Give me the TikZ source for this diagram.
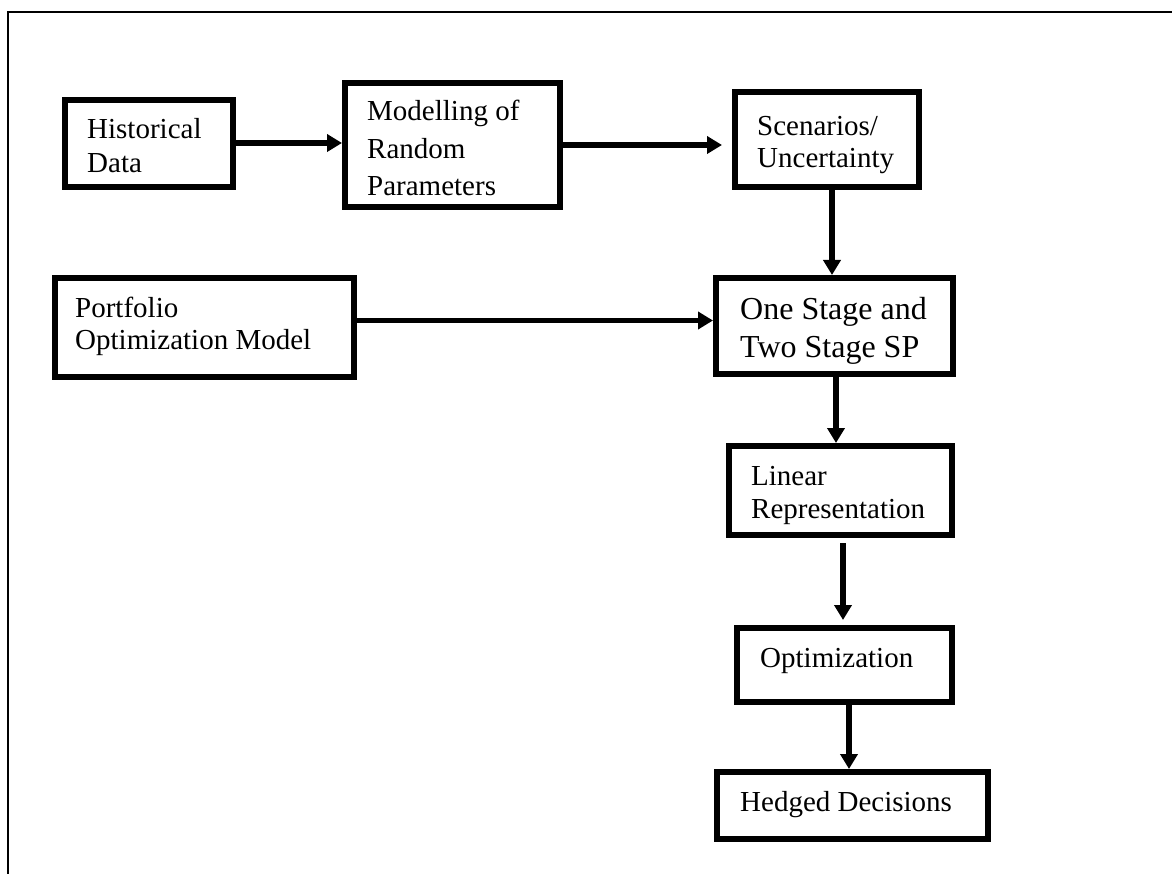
\documentclass[tikz,border=0pt]{standalone}
\usepackage{fontspec}
\setmainfont{Liberation Serif}
\usetikzlibrary{arrows.meta}
\newcommand\boxlines[1]{\begin{tabular}[t]{@{}l@{}}#1\end{tabular}}
\begin{document}
\begin{tikzpicture}[x=1pt,y=-1pt,
  box/.style={draw=black,line width=6pt,fill=white,inner sep=0pt},
  txt/.style={anchor=base west,inner sep=0pt,font=\fontsize{29}{34}\selectfont},
  arr/.style={line width=5.5pt,-{Triangle[length=15pt,width=17pt]}},
  frame/.style={line width=2pt}]
\useasboundingbox (0,0) rectangle (1172,874);
\draw[frame] (8,874) -- (8,12) -- (1172,12);
% boxes
\node[box,minimum width=168pt,minimum height=87pt] (hist) at (149,143.5) {};
\node[box,minimum width=215pt,minimum height=124pt] (model) at (452.5,145) {};
\node[box,minimum width=184pt,minimum height=95pt] (scen) at (827,139.5) {};
\node[box,minimum width=299pt,minimum height=99pt] (port) at (204.5,327.5) {};
\node[box,minimum width=237pt,minimum height=96pt] (one) at (834.5,326) {};
\node[box,minimum width=223pt,minimum height=89pt] (lin) at (840.5,490.5) {};
\node[box,minimum width=215pt,minimum height=74pt] (opt) at (844.5,665) {};
\node[box,minimum width=271pt,minimum height=67pt] (hedg) at (852.5,805.5) {};
% texts
\node[txt] (histT) at (87,139) {\boxlines{Historical\\Data}};
\node[txt,font=\fontsize{29}{37.5}\selectfont] (modelT) at (367,121) {\boxlines{Modelling of\\Random\\Parameters}};
\node[txt,font=\fontsize{29}{32}\selectfont] (scenT) at (757,136) {\boxlines{Scenarios/\\Uncertainty}};
\node[txt,font=\fontsize{29}{32}\selectfont] (portT) at (75,318) {\boxlines{Portfolio\\Optimization Model}};
\node[txt,font=\fontsize{32}{37}\selectfont] (oneT) at (740,320) {\boxlines{One Stage and\\Two Stage SP}};
\node[txt,font=\fontsize{29}{33}\selectfont] (linT) at (751,485) {\boxlines{Linear\\Representation}};
\node[txt] (optT) at (760,667) {Optimization};
\node[txt] (hedgT) at (740,811) {Hedged Decisions};
% connectors
\draw[arr] ([yshift=0.5pt]hist.east) -- ([yshift=0.5pt]hist.east -| model.west);
\draw[arr,shorten >=10pt] (model.east) -- (model.east -| scen.west);
\draw[arr] ([xshift=5pt]scen.south) -- ([xshift=5pt]scen.south |- one.north);
\draw[arr] ([yshift=7pt]port.east) -- ([yshift=7pt]port.east -| one.west);
\draw[arr] ([xshift=1.5pt]one.south) -- ([xshift=1.5pt]one.south |- lin.north);
\draw[arr,shorten <=5pt,shorten >=5pt] ([xshift=2.5pt]lin.south) -- ([xshift=2.5pt]lin.south |- opt.north);
\draw[arr] ([xshift=4.5pt]opt.south) -- ([xshift=4.5pt]opt.south |- hedg.north);
\end{tikzpicture}
\end{document}
